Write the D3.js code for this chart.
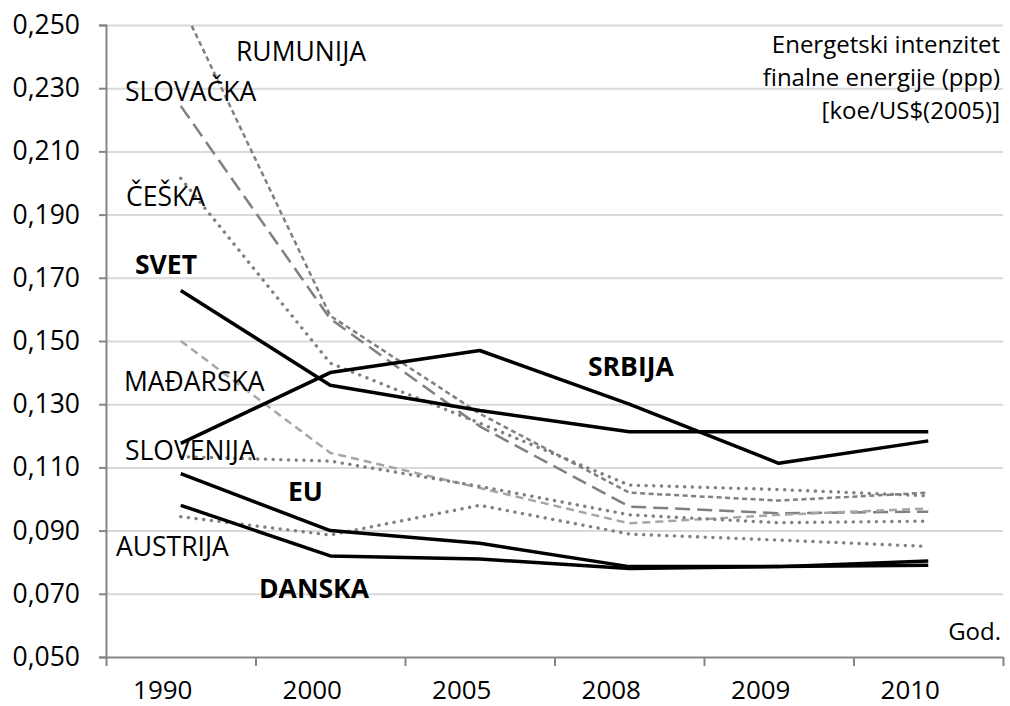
<!DOCTYPE html>
<html>
<head>
<meta charset="utf-8">
<script src="https://cdn.jsdelivr.net/npm/d3@7"></script>
<style>
body { margin: 0; background: #fff; }
text { font-family: "Open Sans", sans-serif; fill: #000; }
</style>
</head>
<body>
<div id="content"></div>
<script>
const w = 1010
const h = 706

// data
const years = ["1990", "2000", "2005", "2008", "2009", "2010"]
const yTicks = [0.05, 0.07, 0.09, 0.11, 0.13, 0.15, 0.17, 0.19, 0.21, 0.23, 0.25]
const rumunija = [0.257, 0.158, 0.127, 0.102, 0.0995, 0.102]
const slovacka = [0.2244, 0.157, 0.123, 0.0976, 0.0955, 0.096]
const ceska = [0.2015, 0.143, 0.124, 0.1044, 0.103, 0.101]
const madjarska = [0.150, 0.1146, 0.1035, 0.0923, 0.095, 0.097]
const slovenija = [0.1134, 0.112, 0.104, 0.095, 0.0925, 0.093]
const austrija = [0.0944, 0.0886, 0.098, 0.0889, 0.087, 0.085]
const svet = [0.166, 0.136, 0.128, 0.1213, 0.1213, 0.1213]
const srbija = [0.1176, 0.140, 0.147, 0.130, 0.1113, 0.1184]
const eu = [0.108, 0.090, 0.086, 0.0786, 0.0786, 0.0804]
const danska = [0.098, 0.082, 0.081, 0.078, 0.0786, 0.079]
const titleLines = ["Energetski intenzitet", "finalne energije (ppp)", "[koe/US$(2005)]"]

// line styles
const styles = {
  black:     {stroke: "#000", width: 3.5, dash: null, cap: "butt"},
  shortDash: {stroke: "#808080", width: 2.5, dash: "5,3.5", cap: "butt"},
  longDash:  {stroke: "#808080", width: 2.5, dash: "15,7", cap: "butt"},
  dots:      {stroke: "#808080", width: 3.4, dash: "0.1,7.6", cap: "round"},
  lightDash: {stroke: "#a6a6a6", width: 2.5, dash: "8,5", cap: "butt"}
}

const series = [
  {name: "RUMUNIJA", values: rumunija, style: "shortDash"},
  {name: "SLOVAČKA", values: slovacka, style: "longDash"},
  {name: "ČEŠKA", values: ceska, style: "dots"},
  {name: "MAĐARSKA", values: madjarska, style: "lightDash"},
  {name: "SLOVENIJA", values: slovenija, style: "dots"},
  {name: "AUSTRIJA", values: austrija, style: "dots"},
  {name: "SVET", values: svet, style: "black"},
  {name: "SRBIJA", values: srbija, style: "black"},
  {name: "EU", values: eu, style: "black"},
  {name: "DANSKA", values: danska, style: "black"}
]

// where the series names sit (pixels)
const labels = [
  {text: "RUMUNIJA", x: 236, y: 52, bold: false},
  {text: "SLOVAČKA", x: 125, y: 92, bold: false},
  {text: "ČEŠKA", x: 126, y: 197, bold: false},
  {text: "SVET", x: 135, y: 265, bold: true},
  {text: "MAĐARSKA", x: 124, y: 382, bold: false},
  {text: "SLOVENIJA", x: 125, y: 451, bold: false},
  {text: "EU", x: 288, y: 492, bold: true},
  {text: "AUSTRIJA", x: 116, y: 547, bold: false},
  {text: "DANSKA", x: 259, y: 589, bold: true},
  {text: "SRBIJA", x: 588, y: 367, bold: true}
]

const plotLeft = 106, plotRight = 1003, plotTop = 25, plotBottom = 657

let svg = d3.select("#content")
  .append("svg")
  .attr("width", w)
  .attr("height", h)

const x = d3.scaleBand()
  .domain(years)
  .range([plotLeft, plotRight])

const y = d3.scaleLinear()
  .domain([0.05, 0.25])
  .range([plotBottom, plotTop])

const fmt = d3.formatLocale({decimal: ",", thousands: ".", grouping: [3], currency: ["", ""]}).format(".3f")

// gridlines
svg.append("g")
  .attr("transform", "translate(" + plotLeft + ",0)")
  .call(d3.axisLeft(y).tickValues(yTicks.slice(1)).tickSize(-(plotRight - plotLeft)).tickFormat(""))
  .call(g => g.select(".domain").remove())
  .selectAll("line")
  .attr("stroke", "#d9d9d9")
  .attr("stroke-width", 2)

// y axis
svg.append("g")
  .attr("class", "y axis")
  .attr("transform", "translate(" + plotLeft + ",0)")
  .call(d3.axisLeft(y).tickValues(yTicks).tickSize(7).tickPadding(19).tickFormat(fmt))
  .call(g => g.selectAll("line, path").attr("stroke", "#868686").attr("stroke-width", 2))
  .call(g => g.selectAll("text").attr("font-size", 26.5).attr("font-family", "Open Sans"))

// x axis: ticks between categories
const xb = d3.scaleLinear().domain([0, years.length]).range([plotLeft, plotRight])
svg.append("g")
  .attr("class", "x axis")
  .attr("transform", "translate(0," + plotBottom + ")")
  .call(d3.axisBottom(xb).ticks(years.length).tickSize(9).tickSizeOuter(0).tickFormat(""))
  .call(g => g.selectAll("line, path").attr("stroke", "#868686").attr("stroke-width", 2))

svg.append("g")
  .attr("transform", "translate(-18," + plotBottom + ")")
  .call(d3.axisBottom(x).tickSize(0).tickPadding(24))
  .call(g => g.select(".domain").remove())
  .call(g => g.selectAll("text").attr("font-size", 26).attr("font-family", "Open Sans"))

// lines
svg.append("clipPath").attr("id", "plot")
  .append("rect")
  .attr("x", plotLeft).attr("y", plotTop)
  .attr("width", plotRight - plotLeft).attr("height", plotBottom - plotTop)

const line = d3.line()
  .x((d, i) => x(years[i]) + x.bandwidth() / 2)
  .y(d => y(d))

svg.append("g")
  .attr("clip-path", "url(#plot)")
  .selectAll("path")
  .data(series)
  .enter()
  .append("path")
    .attr("d", d => line(d.values))
    .attr("fill", "none")
    .attr("stroke", d => styles[d.style].stroke)
    .attr("stroke-width", d => styles[d.style].width)
    .attr("stroke-dasharray", d => styles[d.style].dash)
    .attr("stroke-linecap", d => styles[d.style].cap)
    .attr("stroke-linejoin", "round")

// series names
svg.selectAll(".lab")
  .data(labels)
  .enter()
  .append("text")
    .attr("class", "lab")
    .attr("x", d => d.x)
    .attr("y", d => d.y)
    .attr("dy", "0.35em")
    .attr("font-size", 26.5)
    .attr("font-weight", d => d.bold ? "bold" : "normal")
    .text(d => d.text)

// title, top right
svg.selectAll(".title")
  .data(titleLines)
  .enter()
  .append("text")
    .attr("class", "title")
    .attr("x", 1000)
    .attr("y", (d, i) => 45 + i * 33)
    .attr("dy", "0.35em")
    .attr("text-anchor", "end")
    .attr("font-size", 24)
    .text(d => d)

svg.append("text")
  .attr("x", 1001)
  .attr("y", 632)
  .attr("dy", "0.35em")
  .attr("text-anchor", "end")
  .attr("font-size", 24)
  .text("God.")
</script>
</body>
</html>
